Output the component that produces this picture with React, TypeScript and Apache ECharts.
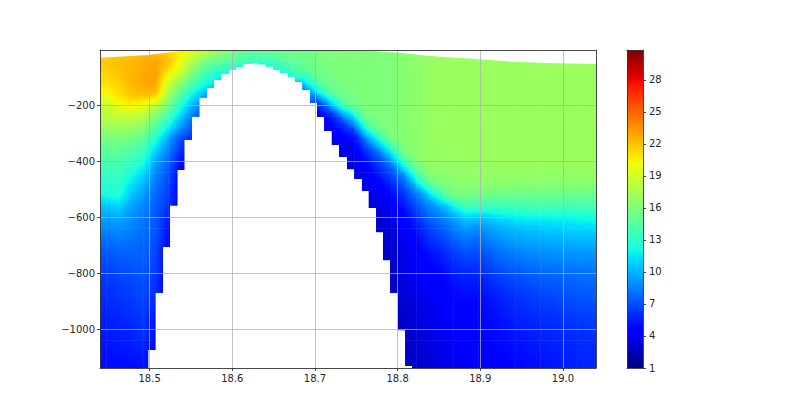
import React, { useEffect, useRef } from "react";
import * as echarts from "echarts";

// Longitude of each sampled column (centre)
const lonCenters = [
  18.4475, 18.4625, 18.4775, 18.4925, 18.5075, 18.5225, 18.5375, 18.5525, 18.5675, 18.5825,
  18.5975, 18.6125, 18.6275, 18.6425, 18.6575, 18.6725, 18.6875, 18.7025, 18.7175, 18.7325,
  18.7475, 18.7625, 18.7775, 18.7925, 18.8075, 18.8225, 18.8375, 18.8525, 18.8675, 18.8825,
  18.8975, 18.9125, 18.9275, 18.9425, 18.9575, 18.9725, 18.9875, 19.0025, 19.0175, 19.0325,
];

// Depth of each sampled row
const depthLevels = [
  0, -40, -80, -120, -160, -200, -240, -280, -320, -360, -400, -440, -480, -520, -560, -600, -640,
  -720, -800, -880, -960, -1040, -1140,
];

// Temperature profile of each column, from the surface down
const profiles: number[][] = [
  [21.8, 21.8, 21.5, 21, 20.3, 18.6, 18, 17, 15.7, 14.8, 14, 13.4, 12.9, 12.2, 10.6, 9.5, 8.7, 7.3, 6.5, 6, 5.6, 5.3, 5],
  [21.8, 22, 22, 21.6, 21, 20, 18.5, 17.2, 16, 15, 14.2, 13.5, 13, 12.8, 11, 9.8, 8.9, 7.7, 6.8, 6.2, 5.8, 5.5, 5],
  [22, 22.2, 22.4, 22.3, 22, 20.5, 18.5, 17, 15.6, 14.5, 13.5, 12.5, 11.5, 10.5, 9.5, 9, 8.5, 7.7, 7, 6.5, 6, 5.6, 5],
  [22.2, 22.6, 22.8, 22.8, 22.2, 20, 18, 16.5, 14.8, 13.7, 12.5, 11.2, 10.2, 9.3, 8.7, 8.3, 8, 7.6, 7.2, 6.8, 6.4, 6, 5],
  [21.5, 22.8, 23, 23, 22, 18.5, 16, 14.3, 12.7, 11, 9.6, 8.8, 8.2, 7.8, 7.5, 7.3, 7.2, 6.8, 6.4, 6, 5.2, 4.8, 4.5],
  [21, 22.3, 21, 19, 17.5, 15.8, 13.8, 12, 9.6, 8.5, 7.8, 7.2, 6.8, 6.5, 6.2, 5.7, 5.2, 4.5, 4.3, 4.2],
  [20.5, 20, 19, 16.5, 14.5, 12.8, 11, 9, 7, 6.2, 5.2, 4.5, 4.2, 4.2, 4.2, 4],
  [19.8, 18, 16, 14.3, 12, 9.8, 8.2, 7, 6, 5],
  [18.6, 16, 14, 12.5, 10, 8, 6.5, 5],
  [17.5, 15, 13, 11, 8.5],
  [16.3, 14.8, 12.5, 10],
  [15.5, 14, 12],
  [15.5, 13.5, 12],
  [15.5, 13.5, 12],
  [15.5, 14.5, 12.5, 10],
  [15.5, 15, 13.8, 10.5, 8],
  [15.5, 15.3, 14.8, 11, 8, 7],
  [15.8, 15.6, 15.3, 14.8, 10.5, 5.5, 4, 3.5],
  [16, 16, 15.8, 15.4, 14.6, 9, 5.2, 4, 3.5, 3],
  [16, 16, 16, 15.8, 15.4, 14, 8, 5.5, 4.3, 3.8, 3.5, 3.2],
  [16, 16, 16, 16, 15.8, 15.4, 12, 7.5, 4.8, 4, 3.6, 3.3, 3],
  [16, 16, 16, 16, 16, 16, 15.8, 13.5, 8.8, 6.5, 5, 4.2, 3.7, 3.3, 3, 2.8, 2.6],
  [16, 16, 16, 16, 16, 16, 16, 15.9, 13, 8.7, 6.8, 5.6, 4.6, 4, 3.5, 3.2, 3, 2.8, 2.7],
  [16, 16, 16, 16, 16, 16, 16, 16, 15.8, 13, 8.8, 7.2, 5.8, 4.9, 4.3, 3.7, 3.4, 3, 2.8, 2.8, 2.6],
  [16.3, 16.3, 16.3, 16.3, 16.3, 16.3, 16.3, 16.3, 16.2, 16, 14.2, 9.5, 7.5, 6.3, 5.3, 4.6, 4.2, 3.8, 3.6, 3.2, 3, 2.8, 2.6],
  [16.5, 16.5, 16.5, 16.5, 16.5, 16.5, 16.5, 16.5, 16.5, 16.5, 16, 14.5, 10.8, 8.3, 7, 6, 5.2, 4.4, 4, 3.7, 3.4, 3.1, 2.8],
  [16.8, 16.8, 16.8, 16.8, 16.8, 16.8, 16.8, 16.8, 16.8, 16.8, 16.8, 16.2, 15, 10.5, 8.7, 7.6, 6.7, 5.2, 4.4, 4, 3.8, 3.5, 3.2],
  [17, 17, 17, 17, 17, 17, 17, 17, 17, 16.9, 16.8, 16.6, 16, 14, 9.8, 8.5, 7.4, 5.8, 4.8, 4.3, 4, 3.8, 3.5],
  [17, 17, 17, 17, 17, 17, 17, 17, 17, 16.9, 16.8, 16.6, 16.3, 15.8, 12, 9.5, 8.4, 6.6, 5.5, 4.8, 4.4, 4.2, 3.8],
  [17, 17, 17, 17, 17, 17, 17, 17, 17, 17, 16.9, 16.7, 16.5, 15.6, 14, 11, 9.2, 7.2, 5.8, 5, 4.6, 4.4, 4],
  [17, 17, 17, 17, 17, 17, 17, 17, 17, 17, 16.9, 16.7, 16.5, 15.5, 13.7, 10.6, 8.8, 7, 5.8, 4.9, 4.6, 4.5, 4.2],
  [17, 17, 17, 17, 17, 17, 17, 17, 17, 17, 17, 16.8, 16.5, 15.4, 13.7, 11, 9.5, 7.7, 6.4, 5.3, 5, 4.8, 4.4],
  [17, 17, 17, 17, 17, 17, 17, 17, 17, 17, 17, 16.8, 16.5, 15.3, 13.7, 11.5, 10, 8.3, 7, 5.8, 5.3, 5, 4.6],
  [17, 17, 17, 17, 17, 17, 17, 17, 17, 17, 17, 16.8, 16.4, 15.3, 13.8, 11.8, 10.3, 8.6, 7.2, 6.2, 5.6, 5.2, 4.8],
  [17, 17, 17, 17, 17, 17, 17, 17, 17, 17, 17, 16.8, 16.4, 15.3, 14, 12, 10.5, 8.9, 7.5, 6.4, 5.8, 5.4, 5],
  [17, 17, 17, 17, 17, 17, 17, 17, 17, 17, 17, 16.8, 16.4, 15.3, 14, 12, 10.6, 9, 7.7, 6.6, 6, 5.5, 5.1],
  [17, 17, 17, 17, 17, 17, 17, 17, 17, 17, 17, 16.8, 16.4, 15.3, 14, 12, 10.8, 9.1, 7.8, 6.8, 6.1, 5.7, 5.3],
  [17, 17, 17, 17, 17, 17, 17, 17, 17, 17, 17, 16.8, 16.4, 15.3, 14, 12.1, 10.9, 9.2, 7.9, 7, 6.3, 5.8, 5.4],
  [17, 17, 17, 17, 17, 17, 17, 17, 17, 17, 17, 16.8, 16.4, 15.3, 14, 12.2, 11, 9.3, 8, 7.2, 6.4, 5.9, 5.6],
  [17, 17, 17, 17, 17, 17, 17, 17, 17, 17, 17, 16.8, 16.4, 15.3, 14, 12.4, 11, 9.3, 8.1, 7.3, 6.5, 6, 5.8],
];

// Sea bed: stepped, one depth per bathymetry cell between consecutive edges
const seabedEdges = [
  18.4984, 18.5073, 18.5162, 18.5247, 18.5338, 18.5422, 18.5513, 18.5604, 18.5694, 18.5779, 18.587,
  18.5961, 18.6045, 18.613, 18.6221, 18.6311, 18.6402, 18.6493, 18.6577, 18.6674, 18.6759, 18.6844,
  18.694, 18.7025, 18.711, 18.7203, 18.7291, 18.7388, 18.7473, 18.7569, 18.765, 18.7739, 18.7823,
  18.7908, 18.8005, 18.809, 18.8174,
];
const seabedDepths = [
  -1075, -871, -707, -560, -432, -325, -243, -175, -139, -111, -89, -75, -64, -54, -52, -55, -63, -75,
  -86, -100, -118, -146, -193, -243, -293, -343, -386, -429, -464, -507, -568, -654, -754, -871, -1004,
  -1132,
];

// Sea surface line
const surfaceLons = [18.44, 18.498, 18.546, 18.73, 18.77, 18.802, 18.839, 18.899, 18.939, 18.98, 19.04];
const surfaceDepths = [-31, -21.4, -3.6, -3.6, -7, -13, -25, -36.8, -45.4, -50, -53.6];

const lonTicks = [18.5, 18.6, 18.7, 18.8, 18.9, 19.0];
const depthTicks = [-1000, -800, -600, -400, -200];
const colorbarTicks = [1, 4, 7, 10, 13, 16, 19, 22, 25, 28];
const colorbarStops = [0, 0.11, 0.125, 0.34, 0.35, 0.375, 0.64, 0.65, 0.66, 0.89, 0.91, 1];

const LON_MIN = 18.44;
const LON_MAX = 19.04;
const DEPTH_MIN = -1139;
const DEPTH_MAX = -3.6;
const VALUE_MIN = 1;
const VALUE_MAX = 30.8;

const clamp = (v: number) => Math.max(0, Math.min(1, v));
function ramp(t: number, pts: number[][]) {
  if (t <= pts[0][0]) return pts[0][1];
  for (let i = 1; i < pts.length; i++) {
    if (t <= pts[i][0]) {
      const f = (t - pts[i - 1][0]) / (pts[i][0] - pts[i - 1][0]);
      return pts[i - 1][1] + f * (pts[i][1] - pts[i - 1][1]);
    }
  }
  return pts[pts.length - 1][1];
}
function jet(t: number) {
  const r = ramp(t, [[0, 0], [0.35, 0], [0.66, 1], [0.89, 1], [1, 0.5]]);
  const g = ramp(t, [[0, 0], [0.125, 0], [0.375, 1], [0.64, 1], [0.91, 0], [1, 0]]);
  const b = ramp(t, [[0, 0.5], [0.11, 1], [0.34, 1], [0.65, 0], [1, 0]]);
  return `rgb(${Math.round(r * 255)},${Math.round(g * 255)},${Math.round(b * 255)})`;
}
const valueColor = (v: number) => jet(clamp((v - VALUE_MIN) / (VALUE_MAX - VALUE_MIN)));

// A cell spans two neighbouring columns and two neighbouring rows; its corners are the read values.
const nodeValue = (i: number, j: number) => {
  const p = profiles[i];
  return j < p.length ? p[j] : p[p.length - 1];
};
const tempCells: number[][] = [];
for (let i = -1; i < lonCenters.length; i++) {
  const l = Math.max(i, 0);
  const r = Math.min(i + 1, lonCenters.length - 1);
  const lon0 = i < 0 ? LON_MIN : lonCenters[i];
  const lon1 = i + 1 >= lonCenters.length ? LON_MAX : lonCenters[i + 1];
  const deepest = Math.max(profiles[l].length, profiles[r].length);
  for (let j = 0; j + 1 < deepest; j++) {
    tempCells.push([
      lon0,
      lon1,
      depthLevels[j],
      depthLevels[j + 1],
      nodeValue(l, j),
      nodeValue(r, j),
      nodeValue(l, j + 1),
      nodeValue(r, j + 1),
    ]);
  }
}

const textStyle = { color: "#262626", fontSize: 10, fontFamily: "DejaVu Sans" };
const lineStyle = { color: "#333333", width: 0.9 };

function frameAxis(gridIndex: number, position: string, min: number, max: number) {
  return {
    type: "value",
    gridIndex,
    position,
    min,
    max,
    z: 6,
    axisLine: { show: true, onZero: false, lineStyle },
    axisTick: { show: false },
    axisLabel: { show: false },
    splitLine: { show: false },
  };
}
function tickAxis(gridIndex: number, position: string, min: number, max: number, ticks: number[], grid: boolean, fmt: (v: number) => string, margin = 5) {
  return {
    type: "value",
    gridIndex,
    position,
    min,
    max,
    z: 5,
    axisLine: { show: true, onZero: false, lineStyle },
    axisTick: { show: true, length: 3, inside: false, lineStyle, customValues: ticks },
    axisLabel: { show: true, margin, showMinLabel: true, showMaxLabel: true, customValues: ticks, formatter: fmt, ...textStyle },
    splitLine: { show: grid, lineStyle: { color: "rgba(176,176,176,0.85)", width: 0.9 } },
  };
}

// Fill of one cell: a linear gradient laid along the slope of its four corner values
function cellFill(x: number, y: number, w: number, h: number, tl: number, tr: number, bl: number, br: number) {
  const b = (tr - tl + br - bl) / 2;
  const c = (bl - tl + br - tr) / 2;
  const m = (tl + tr + bl + br) / 4;
  const gx = b / w;
  const gy = c / h;
  const g2 = gx * gx + gy * gy;
  if (g2 < 1e-7) return valueColor(m);
  const half = (Math.abs(b) + Math.abs(c)) / 2;
  const cx = x + w / 2;
  const cy = y + h / 2;
  const stops = [];
  const n = 6;
  for (let k = 0; k <= n; k++) {
    stops.push({ offset: k / n, color: valueColor(m - half + (2 * half * k) / n) });
  }
  return new echarts.graphic.LinearGradient(
    cx - (gx * half) / g2,
    cy - (gy * half) / g2,
    cx + (gx * half) / g2,
    cy + (gy * half) / g2,
    stops,
    true,
  );
}

export default function App() {
  const ref = useRef<HTMLDivElement>(null);
  useEffect(() => {
    const chart = echarts.init(ref.current!, null, { renderer: "svg" });
    const gradStops = colorbarStops.map((t) => ({ offset: t, color: jet(t) }));
    chart.setOption({
      animation: false,
      backgroundColor: "#ffffff",
      grid: [
        { left: 100, top: 50, width: 496, height: 318 },
        { left: 627, top: 50, width: 16, height: 318 },
      ],
      xAxis: [
        tickAxis(0, "bottom", LON_MIN, LON_MAX, lonTicks, true, (v: number) => v.toFixed(1)),
        frameAxis(0, "top", LON_MIN, LON_MAX),
        frameAxis(1, "bottom", 0, 1),
        frameAxis(1, "top", 0, 1),
      ],
      yAxis: [
        tickAxis(0, "left", DEPTH_MIN, DEPTH_MAX, depthTicks, true, (v: number) => String(v).replace("-", "\u2212")),
        frameAxis(0, "right", DEPTH_MIN, DEPTH_MAX),
        frameAxis(1, "left", VALUE_MIN, VALUE_MAX),
        tickAxis(1, "right", VALUE_MIN, VALUE_MAX, colorbarTicks, false, (v: number) => String(v), 6),
      ],
      series: [
        {
          type: "custom",
          name: "temperature",
          xAxisIndex: 0,
          yAxisIndex: 0,
          clip: true,
          silent: true,
          z: 2,
          encode: { x: [0, 1], y: [2, 3] },
          data: tempCells,
          renderItem: (_p: any, api: any) => {
            const a = api.coord([api.value(0), api.value(2)]);
            const b = api.coord([api.value(1), api.value(3)]);
            const w = b[0] - a[0];
            const h = b[1] - a[1];
            return {
              type: "rect",
              shape: { x: a[0], y: a[1], width: w + 0.5, height: h + 0.5 },
              style: { fill: cellFill(a[0], a[1], w, h, api.value(4), api.value(5), api.value(6), api.value(7)) },
            };
          },
        },
        {
          type: "custom",
          name: "seabed",
          xAxisIndex: 0,
          yAxisIndex: 0,
          clip: true,
          silent: true,
          z: 3,
          encode: { x: 0, y: 1 },
          data: [[seabedEdges[0], DEPTH_MIN]],
          renderItem: (_p: any, api: any) => {
            const pts: number[][] = [api.coord([seabedEdges[0], DEPTH_MIN])];
            seabedDepths.forEach((d, i) => {
              pts.push(api.coord([seabedEdges[i], d]));
              pts.push(api.coord([seabedEdges[i + 1], d]));
            });
            pts.push(api.coord([seabedEdges[seabedEdges.length - 1], DEPTH_MIN]));
            return { type: "polygon", shape: { points: pts }, style: { fill: "#ffffff" } };
          },
        },
        {
          type: "custom",
          name: "above the surface",
          xAxisIndex: 0,
          yAxisIndex: 0,
          clip: true,
          silent: true,
          z: 3,
          encode: { x: 0, y: 1 },
          data: [[surfaceLons[0], surfaceDepths[0]]],
          renderItem: (_p: any, api: any) => {
            const pts: number[][] = surfaceLons.map((lon, i) => api.coord([lon, surfaceDepths[i]]));
            pts.push(api.coord([LON_MAX, DEPTH_MAX + 5]));
            pts.push(api.coord([LON_MIN, DEPTH_MAX + 5]));
            return { type: "polygon", shape: { points: pts }, style: { fill: "#ffffff" } };
          },
        },
        {
          type: "custom",
          name: "colorbar",
          xAxisIndex: 2,
          yAxisIndex: 2,
          silent: true,
          z: 2,
          encode: { x: 0, y: [1, 2] },
          data: [[0, VALUE_MIN, VALUE_MAX]],
          renderItem: (_p: any, api: any) => {
            const a = api.coord([0, api.value(2)]);
            const b = api.coord([1, api.value(1)]);
            return {
              type: "rect",
              shape: { x: a[0], y: a[1], width: b[0] - a[0], height: b[1] - a[1] },
              style: { fill: new echarts.graphic.LinearGradient(0, 1, 0, 0, gradStops) },
            };
          },
        },
      ],
    });
    return () => chart.dispose();
  }, []);
  return <div ref={ref} style={{ position: "fixed", left: 0, top: 0, width: 800, height: 413 }} />;
}
